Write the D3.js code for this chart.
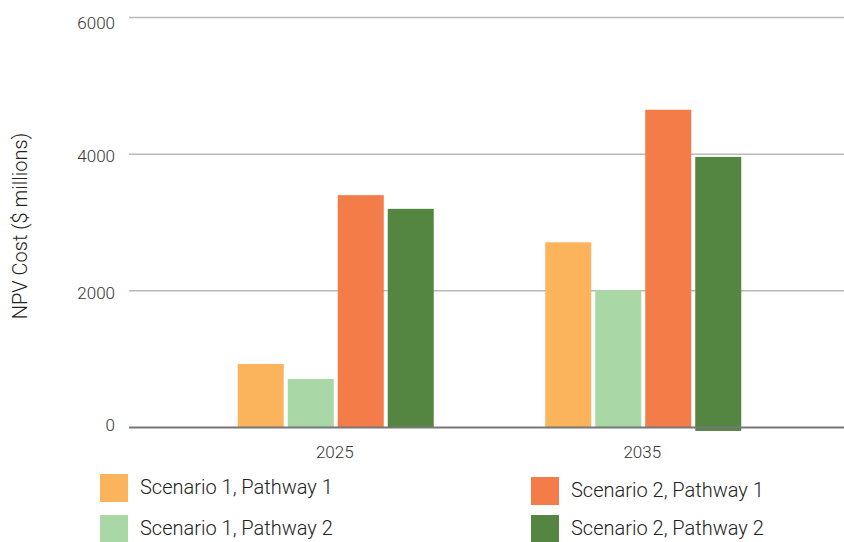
<!DOCTYPE html>
<html>
    <head>
        <meta charset="utf-8">
        <script src="https://d3js.org/d3.v7.min.js"></script>
        <style>
            body { margin: 0; background: #fff; }
            svg { display: block; font-family: Roboto, sans-serif; }
        </style>
    </head>
    <body>
        <svg></svg>
    </body>
    <script>
        // data
        var years = ['2025', '2035'];
        var series = ['Scenario 1, Pathway 1', 'Scenario 1, Pathway 2', 'Scenario 2, Pathway 1', 'Scenario 2, Pathway 2'];
        var colors = ['#fbb45c', '#a9d7a6', '#f47c48', '#548641'];
        // values per series, one per year
        var highs = [
            [930, 2710],
            [710, 2010],
            [3400, 4650],
            [3200, 3960]
        ];
        // bar bottoms (last bar dips slightly under zero)
        var lows = [
            [0, 0],
            [0, 0],
            [0, 0],
            [0, -50]
        ];
        var yTicks = [0, 2000, 4000, 6000];

        var width = 844, height = 542;

        var svg = d3.select('svg')
            .attr('width', width)
            .attr('height', height);

        // scales
        var y = d3.scaleLinear().domain([0, 6000]).range([427.5, 17.5]);
        var x0 = d3.scaleBand().domain(years).range([182, 797]);
        var x1 = d3.scaleBand().domain(series).range([0, 196]).paddingInner(0.08);
        var color = d3.scaleOrdinal().domain(series).range(colors);

        // grid
        svg.append('g')
            .selectAll('line')
            .data(yTicks.filter(function (d) { return d !== 0; }))
            .enter().append('line')
                .attr('x1', 129)
                .attr('x2', width)
                .attr('y1', function (d) { return y(d); })
                .attr('y2', function (d) { return y(d); })
                .attr('stroke', '#b9b9b9')
                .attr('stroke-width', 1.5);

        // y tick labels
        svg.append('g')
            .selectAll('text')
            .data(yTicks)
            .enter().append('text')
                .attr('x', 115)
                .attr('y', function (d) { return y(d) + (d === 6000 ? 6 : d === 0 ? -2 : 2); })
                .attr('dy', '0.35em')
                .attr('text-anchor', 'end')
                .attr('fill', '#333')
                .style('font-size', '17px')
                .style('font-weight', 300)
                .text(function (d) { return d; });

        // bars
        var rows = [];
        series.forEach(function (s, i) {
            years.forEach(function (yr, j) {
                rows.push({ s: s, year: yr, lo: lows[i][j], hi: highs[i][j] });
            });
        });

        svg.append('g')
            .selectAll('rect')
            .data(rows)
            .enter().append('rect')
                .attr('x', function (d) { return x0(d.year) + x0.bandwidth() / 2 - 98 + x1(d.s); })
                .attr('width', x1.bandwidth())
                .attr('y', function (d) { return y(d.hi); })
                .attr('height', function (d) { return y(d.lo) - y(d.hi); })
                .attr('fill', function (d) { return color(d.s); });

        // baseline
        svg.append('line')
            .attr('x1', 129)
            .attr('x2', width)
            .attr('y1', y(0))
            .attr('y2', y(0))
            .attr('stroke', '#777')
            .attr('stroke-width', 2);

        // x labels
        svg.append('g')
            .selectAll('text')
            .data(years)
            .enter().append('text')
                .attr('x', function (d) { return x0(d) + x0.bandwidth() / 2 - 1; })
                .attr('y', 458)
                .attr('text-anchor', 'middle')
                .attr('fill', '#333')
                .style('font-size', '17px')
                .style('font-weight', 300)
                .text(function (d) { return d; });

        // y title
        svg.append('text')
            .attr('transform', 'translate(27,226) rotate(-90)')
            .attr('text-anchor', 'middle')
            .attr('fill', '#222')
            .style('font-size', '20px')
            .style('font-weight', 300)
            .text('NPV Cost ($ millions)');

        // legend
        var legendPos = [
            { x: 100, y: 474 },
            { x: 100, y: 515 },
            { x: 531, y: 477 },
            { x: 531, y: 515 }
        ];
        var legend = svg.selectAll('.legend')
            .data(series)
            .enter().append('g')
                .attr('class', 'legend')
                .attr('transform', function (d, i) { return 'translate(' + legendPos[i].x + ',' + legendPos[i].y + ')'; });

        legend.append('rect')
            .attr('width', 28)
            .attr('height', 28)
            .attr('fill', function (d) { return color(d); });

        legend.append('text')
            .attr('x', 40)
            .attr('y', 13)
            .attr('dy', '0.35em')
            .attr('fill', '#222')
            .style('font-size', '20px')
            .style('font-weight', 300)
            .text(function (d) { return d; });
    </script>
</html>
